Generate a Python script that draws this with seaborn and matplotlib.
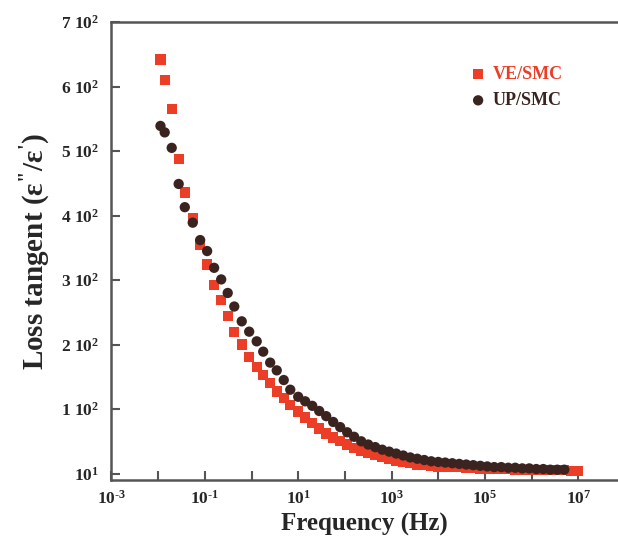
import pandas as pd
import seaborn as sns
import matplotlib.pyplot as plt
from matplotlib.ticker import FixedLocator, NullLocator

# Data
freq = [0.0112, 0.0138, 0.0195, 0.0275, 0.0372, 0.0550, 0.0794, 0.112, 0.158, 0.224,
        0.309, 0.427, 0.617, 0.891, 1.29, 1.78, 2.51, 3.47, 4.90, 6.76,
        10.0, 14.1, 20.0, 28.2, 39.8, 56.2, 79.4, 112, 158, 224,
        316, 447, 631, 891, 1259, 1778, 2512, 3548, 5012, 7079,
        1.0e4, 1.41e4, 2.00e4, 2.82e4, 3.98e4, 5.62e4, 7.94e4, 1.12e5, 1.58e5, 2.24e5,
        3.16e5, 4.47e5, 6.31e5, 8.91e5, 1.26e6, 1.78e6, 2.51e6, 3.55e6, 5.01e6, 7.08e6,
        1.0e7]

ve_smc = [642, 610, 565, 488, 436, 396, 355, 324, 292, 269,
          244, 220, 200, 181, 165, 153, 140, 127, 117, 106,
          96, 87, 78, 70, 62, 56, 51, 45, 40, 35,
          32, 29, 26, 23, 20, 18, 16, 14, 13, 12,
          11, 11, 10, 10, 9, 9, 8, 8, 7, 7,
          7, 6, 6, 6, 6, 5, 5, 5, 5, 4,
          4]

up_smc = [539, 529, 505, 449, 413, 389, 362, 345, 319, 301,
          280, 259, 236, 220, 205, 189, 172, 160, 145, 130,
          119, 112, 105, 97, 89, 80, 72, 64, 57, 50,
          45, 41, 37, 34, 31, 28, 25, 23, 21, 19,
          18, 17, 16, 15, 14, 13, 12, 11, 10, 10,
          9, 9, 8, 8, 7, 7, 6, 6, 6]

ytick_vals = [0, 100, 200, 300, 400, 500, 600, 700]
ytick_labels = ['10$^{1}$', '1 10$^{2}$', '2 10$^{2}$', '3 10$^{2}$',
                '4 10$^{2}$', '5 10$^{2}$', '6 10$^{2}$', '7 10$^{2}$']
xtick_vals = [1e-3, 1e-2, 1e-1, 1e0, 1e1, 1e2, 1e3, 1e4, 1e5, 1e6, 1e7]
xtick_labels = ['10$^{\\text{-3}}$', '', '10$^{\\text{-1}}$', '', '10$^{1}$', '',
                '10$^{3}$', '', '10$^{5}$', '', '10$^{7}$']

RED = '#EC3D26'
DARK = '#3B2420'

sns.set_style('ticks')
plt.rcParams['font.family'] = ['Liberation Serif', 'DejaVu Serif']
plt.rcParams['font.weight'] = 'bold'
plt.rcParams['mathtext.fontset'] = 'custom'
plt.rcParams['mathtext.rm'] = 'Liberation Serif:bold'
plt.rcParams['mathtext.it'] = 'Liberation Serif:bold'
plt.rcParams['mathtext.bf'] = 'Liberation Serif:bold'
plt.rcParams['mathtext.default'] = 'rm'

df_ve = pd.DataFrame({'freq': freq, 'tan': ve_smc})
df_up = pd.DataFrame({'freq': freq[:len(up_smc)], 'tan': up_smc})

fig = plt.figure(figsize=(6.18, 5.4), dpi=100)
ax = fig.add_axes([0.1804, 0.1111, 0.8196, 0.848])

sns.scatterplot(data=df_ve, x='freq', y='tan', marker='s', s=55, color=RED,
                edgecolor='none', label='VE/SMC', ax=ax, zorder=2)
sns.scatterplot(data=df_up, x='freq', y='tan', marker='o', s=55, color=DARK,
                edgecolor='none', label='UP/SMC', ax=ax, zorder=3)

ax.set_xscale('log')
ax.set_xlim(1e-3, 7.1e7)
ax.set_ylim(-10, 700)

ax.xaxis.set_major_locator(FixedLocator(xtick_vals))
ax.xaxis.set_minor_locator(NullLocator())
ax.set_xticklabels(xtick_labels)
ax.set_yticks(ytick_vals)
ax.set_yticklabels(ytick_labels)

ax.tick_params(axis='both', direction='in', length=6.5, width=1.5,
               color='#555555', labelsize=12.5)
ax.tick_params(axis='y', pad=9)
ax.tick_params(axis='x', pad=7)

for side in ['left', 'bottom', 'top']:
    ax.spines[side].set_color('#555555')
    ax.spines[side].set_linewidth(1.8)
ax.spines['right'].set_visible(False)

ax.set_xlabel('Frequency (Hz)', fontsize=18, fontweight='bold', labelpad=4)
ax.set_ylabel("Loss tangent (ε$^{\\text{\"}}$/ε$^{\\text{'}}$)", fontsize=21,
              fontweight='bold', labelpad=6)

ax.legend(loc='upper left', bbox_to_anchor=(0.706, 0.904), frameon=False,
          borderpad=0, borderaxespad=0, handlelength=1.0, handletextpad=0.3,
          labelspacing=0.5, prop={'size': 13, 'weight': 'bold'},
          labelcolor='markerfacecolor')

plt.savefig('out.png', dpi=100)
